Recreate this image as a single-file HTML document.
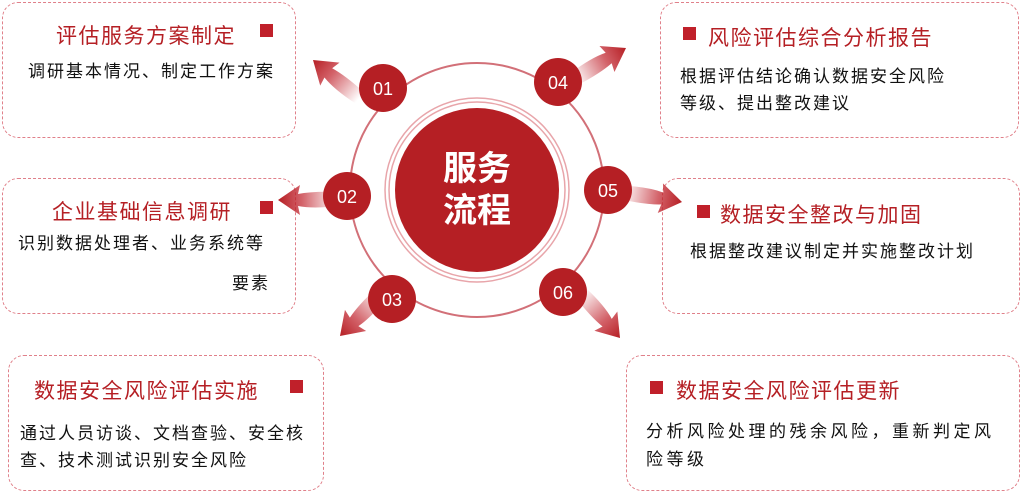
<!DOCTYPE html>
<html><head><meta charset="utf-8"><style>
body{margin:0;width:1024px;height:492px;background:#fff;position:relative;overflow:hidden;font-family:"Liberation Sans","Noto Sans CJK SC",sans-serif}
.box{position:absolute;border:1.5px dashed #e0808a;border-radius:16px;box-sizing:border-box}
.t{position:absolute;color:#b51f24;font-size:21px;white-space:nowrap;letter-spacing:1.5px}
.b{position:absolute;color:#111;font-size:17px;white-space:nowrap;letter-spacing:2px;line-height:27px}
.sq{position:absolute;width:13px;height:13px;background:#c0202a}
svg{position:absolute;left:0;top:0}
</style></head><body>
<div class="box" style="left:2px;top:2px;width:294px;height:136px"></div>
<div class="box" style="left:2px;top:178px;width:294px;height:136px"></div>
<div class="box" style="left:8px;top:355px;width:316px;height:136px"></div>
<div class="box" style="left:660px;top:2px;width:359px;height:136px"></div>
<div class="box" style="left:662px;top:178px;width:358px;height:136px"></div>
<div class="box" style="left:626px;top:355px;width:394px;height:136px"></div>

<div class="t" style="left:56px;top:20px">评估服务方案制定</div><div class="sq" style="left:260px;top:24px"></div>
<div class="b" style="left:28px;top:58px">调研基本情况、制定工作方案</div>

<div class="t" style="left:52px;top:196px">企业基础信息调研</div><div class="sq" style="left:260px;top:201px"></div>
<div class="b" style="left:18px;top:230px">识别数据处理者、业务系统等</div>
<div class="b" style="left:232px;top:270px">要素</div>

<div class="t" style="left:34px;top:375px">数据安全风险评估实施</div><div class="sq" style="left:290px;top:380px"></div>
<div class="b" style="left:20px;top:420px">通过人员访谈、文档查验、安全核</div>
<div class="b" style="left:20px;top:447px">查、技术测试识别安全风险</div>

<div class="sq" style="left:683px;top:27px"></div><div class="t" style="left:708px;top:22px">风险评估综合分析报告</div>
<div class="b" style="left:680px;top:63px">根据评估结论确认数据安全风险</div>
<div class="b" style="left:680px;top:90px">等级、提出整改建议</div>

<div class="sq" style="left:697px;top:205px"></div><div class="t" style="left:720px;top:199px">数据安全整改与加固</div>
<div class="b" style="left:690px;top:238px">根据整改建议制定并实施整改计划</div>

<div class="sq" style="left:650px;top:381px"></div><div class="t" style="left:676px;top:375px">数据安全风险评估更新</div>
<div class="b" style="left:646px;top:418px;letter-spacing:3.5px">分析风险处理的残余风险，重新判定风</div>
<div class="b" style="left:646px;top:446px;letter-spacing:3.5px">险等级</div>

<svg width="1024" height="492">
<defs>
<linearGradient id="g" x1="-60" y1="0" x2="0" y2="0" gradientUnits="userSpaceOnUse">
<stop offset="0" stop-color="#c0202a" stop-opacity="0"/><stop offset="0.6" stop-color="#c0202a" stop-opacity="0.7"/><stop offset="1" stop-color="#b51f24"/></linearGradient>
<g id="ar"><path d="M-60,-6 Q-35,-9 -20,-6 L-22,-15 L0,0 L-22,15 L-20,6 Q-35,9 -60,8 Z" fill="url(#g)"/></g>
</defs>
<use href="#ar" transform="translate(313,60) rotate(-140)"/>
<use href="#ar" transform="translate(626,48) rotate(-30)"/>
<use href="#ar" transform="translate(278,200) rotate(180)"/>
<use href="#ar" transform="translate(682,202) rotate(10)"/>
<use href="#ar" transform="translate(340,336) rotate(135)"/>
<use href="#ar" transform="translate(620,338) rotate(50)"/>
<circle cx="477" cy="190" r="127" fill="none" stroke="#d27078" stroke-width="2"/>
<circle cx="477" cy="190" r="92" fill="none" stroke="#e8a5aa" stroke-width="1.5"/>
<circle cx="477" cy="190" r="88" fill="none" stroke="#e8a5aa" stroke-width="1.5"/>
<circle cx="477" cy="190" r="82" fill="#b51f24"/>
<text x="477" y="180" fill="#fff" font-size="34" text-anchor="middle" font-family="Liberation Sans,Noto Sans CJK SC,sans-serif" font-weight="bold">服务</text>
<text x="477" y="222" fill="#fff" font-size="34" text-anchor="middle" font-family="Liberation Sans,Noto Sans CJK SC,sans-serif" font-weight="bold">流程</text>
<g fill="#b51f24">
<circle cx="383" cy="88" r="24"/><circle cx="558" cy="82" r="24"/>
<circle cx="347" cy="196" r="24"/><circle cx="608" cy="190" r="24"/>
<circle cx="392" cy="299" r="24"/><circle cx="563" cy="292" r="24"/>
</g>
<g fill="#fff" font-size="18" text-anchor="middle" font-family="Liberation Sans,sans-serif">
<text x="383" y="95">01</text><text x="558" y="89">04</text>
<text x="347" y="203">02</text><text x="608" y="197">05</text>
<text x="392" y="306">03</text><text x="563" y="299">06</text>
</g>
</svg>
</body></html>
